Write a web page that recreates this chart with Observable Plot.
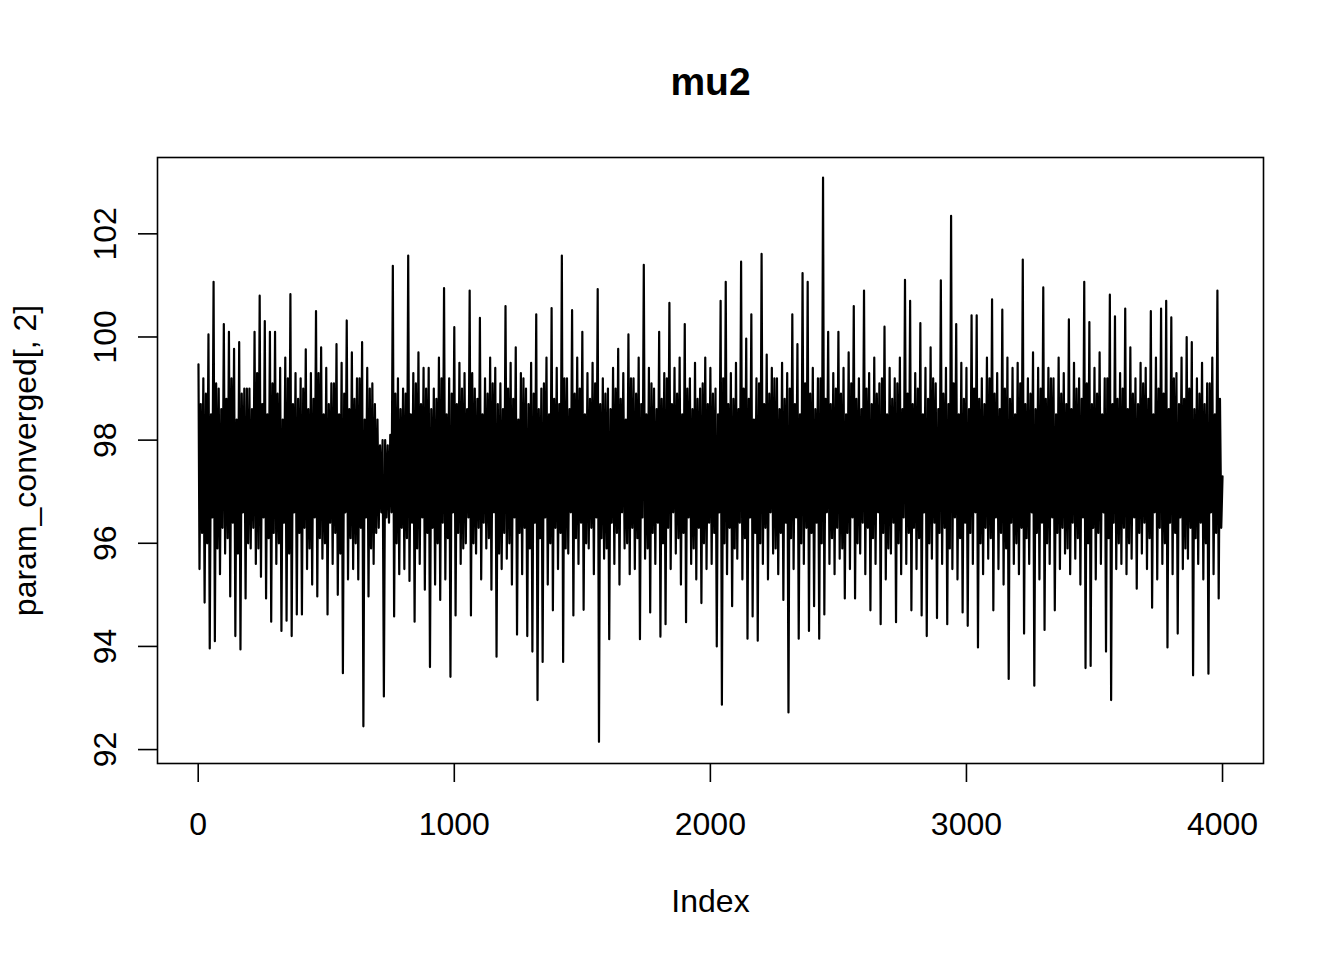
<!DOCTYPE html>
<html>
<head>
<meta charset="utf-8">
<script src="https://cdn.jsdelivr.net/npm/d3@7"></script>
<script src="https://cdn.jsdelivr.net/npm/@observablehq/plot@0.6"></script>
<style>
  html, body { margin: 0; padding: 0; background: #fff; }
  #chart svg { display: block; }
</style>
</head>
<body>
<div id="chart"></div>
<script>
// Trace of mu2 draws (every 5th draw, highs and lows of the band)
const mu2 = [
  99.47, 95.5, 98.7, 96.2, 99.2, 94.85, 98.9, 96.0, 100.05, 93.96, 98.5, 96.5, 101.07, 94.1, 99.1, 95.9, 99.0, 95.4, 98.6, 96.3,
  100.25, 95.8, 98.8, 96.1, 100.1, 94.97, 99.2, 96.4, 99.77, 94.2, 98.4, 95.8, 99.9, 93.94, 98.9, 96.6, 99.0, 94.93, 99.0, 96.0,
  99.0, 95.9, 98.6, 96.3, 100.1, 95.6, 99.3, 95.9, 100.8, 95.35, 98.7, 96.5, 100.31, 94.93, 98.5, 96.1, 100.1, 94.48, 99.1, 96.2,
  100.1, 95.6, 98.9, 96.0, 99.4, 94.3, 98.4, 96.4, 99.6, 94.5, 99.2, 95.8, 100.83, 94.2, 98.7, 96.6, 99.3, 94.62, 98.8, 96.2,
  99.2, 94.62, 99.0, 96.3, 99.76, 95.5, 98.6, 95.9, 99.3, 95.2, 98.8, 96.5, 100.5, 94.97, 99.3, 96.1, 99.8, 95.7, 98.5, 96.0,
  99.4, 94.62, 98.7, 96.4, 99.1, 95.6, 99.1, 96.2, 99.86, 95.0, 98.5, 95.8, 99.5, 93.48, 98.9, 96.6, 100.32, 95.3, 98.6, 96.1,
  99.7, 95.5, 98.8, 96.0, 99.2, 95.3, 99.2, 96.3, 99.9, 92.45, 98.4, 96.5, 99.4, 94.97, 99.0, 95.9, 99.1, 95.6, 98.7, 96.2,
  98.4, 96.3, 97.9, 96.6, 98.0, 93.03, 98.0, 96.5, 97.9, 96.4, 98.1, 96.6, 101.38, 94.58, 98.9, 96.0, 99.2, 95.4, 98.6, 96.3,
  99.0, 95.5, 98.9, 96.1, 101.58, 95.27, 98.5, 96.4, 99.3, 94.48, 99.1, 95.9, 99.7, 95.6, 98.7, 96.5, 99.4, 95.1, 99.0, 96.2,
  99.4, 93.6, 98.6, 96.3, 99.0, 95.2, 98.8, 96.0, 99.6, 94.9, 99.2, 96.4, 100.95, 95.3, 98.5, 96.1, 99.2, 93.41, 98.9, 96.6,
  100.19, 94.6, 98.7, 96.2, 99.5, 95.6, 99.0, 95.9, 99.3, 96.0, 98.6, 96.5, 100.9, 94.6, 99.3, 96.0, 99.0, 95.8, 98.8, 96.3,
  100.37, 95.3, 98.5, 96.4, 99.2, 95.9, 98.9, 96.1, 99.6, 95.1, 99.1, 96.6, 99.4, 93.8, 98.7, 95.8, 99.1, 95.5, 98.6, 96.2,
  100.6, 95.7, 99.0, 96.0, 99.5, 95.2, 98.8, 96.5, 99.8, 94.23, 98.4, 96.2, 99.3, 95.4, 99.2, 96.3, 99.0, 94.2, 98.7, 95.9,
  99.5, 93.9, 98.9, 96.4, 100.44, 92.96, 98.6, 96.1, 99.0, 93.7, 99.1, 96.5, 99.6, 95.2, 98.5, 96.0, 100.56, 94.7, 98.8, 96.3,
  99.4, 95.5, 98.7, 96.2, 101.58, 93.7, 99.2, 95.9, 99.2, 95.8, 98.6, 96.6, 100.52, 94.6, 98.9, 96.1, 99.6, 95.6, 99.0, 96.4,
  100.1, 94.71, 98.5, 96.0, 99.3, 95.9, 98.8, 96.3, 99.5, 95.4, 99.1, 96.5, 100.93, 92.15, 98.7, 96.1, 99.2, 95.7, 98.9, 95.9,
  99.0, 94.14, 98.6, 96.4, 99.4, 95.6, 99.0, 96.2, 99.77, 95.2, 98.8, 96.6, 99.3, 95.9, 98.4, 96.0, 100.05, 95.4, 99.2, 96.3,
  99.2, 95.5, 98.9, 96.1, 99.6, 94.14, 98.7, 96.5, 101.4, 95.7, 98.5, 95.9, 99.4, 94.66, 99.1, 96.2, 99.0, 95.6, 98.6, 96.4,
  100.1, 94.19, 98.8, 96.0, 99.3, 94.43, 99.2, 96.3, 100.66, 95.5, 98.7, 96.6, 99.4, 95.8, 98.9, 96.1, 99.6, 95.2, 98.5, 96.2,
  100.25, 94.47, 99.0, 96.5, 99.2, 95.6, 98.6, 95.9, 99.5, 95.3, 98.8, 96.3, 99.0, 94.84, 99.1, 96.0, 99.6, 95.5, 98.7, 96.4,
  99.4, 95.6, 98.9, 96.2, 99.0, 94.0, 98.5, 96.6, 100.7, 92.87, 99.2, 96.0, 101.07, 95.4, 98.7, 96.3, 99.3, 94.78, 98.8, 95.9,
  99.5, 95.7, 98.6, 96.4, 101.46, 95.3, 99.0, 96.1, 99.97, 94.15, 98.8, 96.5, 100.44, 94.58, 98.4, 96.2, 99.2, 94.11, 99.1, 96.0,
  101.61, 95.6, 98.7, 96.3, 99.66, 95.3, 98.9, 96.6, 99.4, 95.8, 99.2, 95.9, 99.2, 95.4, 98.6, 96.2, 99.5, 94.9, 98.8, 96.4,
  99.3, 92.72, 99.0, 96.1, 100.44, 95.5, 98.7, 96.5, 99.86, 94.15, 98.5, 96.0, 101.24, 95.6, 99.1, 96.3, 101.07, 94.3, 98.9, 96.2,
  99.4, 94.78, 98.6, 96.4, 99.2, 94.15, 99.2, 96.0, 103.09, 94.62, 98.8, 96.6, 100.1, 95.6, 98.7, 96.1, 99.3, 95.4, 99.0, 96.3,
  100.1, 95.7, 98.9, 95.9, 99.4, 94.93, 98.5, 96.2, 99.7, 95.5, 99.1, 96.5, 100.6, 94.93, 98.8, 96.0, 99.2, 95.8, 98.6, 96.4,
  100.9, 95.4, 99.0, 96.3, 99.3, 94.7, 98.7, 96.1, 99.6, 95.6, 98.9, 96.6, 99.1, 94.43, 99.2, 96.2, 100.2, 95.3, 98.5, 95.9,
  99.4, 95.8, 98.8, 96.4, 99.2, 94.47, 99.1, 96.0, 99.6, 95.4, 98.6, 96.5, 101.11, 95.6, 98.9, 96.2, 100.7, 94.7, 98.7, 96.3,
  99.3, 95.5, 99.0, 96.1, 100.27, 94.6, 98.5, 96.6, 99.4, 94.2, 98.8, 96.0, 99.8, 95.7, 99.2, 96.4, 99.1, 94.55, 98.6, 96.2,
  101.1, 95.6, 98.9, 96.3, 99.4, 94.43, 98.7, 95.9, 102.35, 95.5, 99.1, 96.5, 100.25, 95.3, 98.5, 96.1, 99.5, 94.66, 98.8, 96.4,
  99.4, 94.4, 98.6, 96.2, 100.42, 95.6, 99.0, 96.6, 100.42, 93.98, 98.8, 96.0, 99.2, 95.4, 98.7, 96.3, 99.6, 95.7, 99.2, 96.1,
  100.73, 94.7, 98.9, 96.5, 99.3, 95.5, 98.6, 96.2, 100.53, 95.2, 99.0, 95.9, 99.6, 93.37, 98.8, 96.4, 99.4, 95.6, 98.5, 96.0,
  99.5, 95.4, 99.1, 96.3, 101.5, 94.25, 98.7, 96.1, 99.2, 95.6, 98.9, 96.6, 99.7, 93.24, 98.6, 96.2, 99.4, 95.3, 99.0, 96.4,
  100.96, 94.32, 98.8, 96.0, 99.4, 95.6, 99.2, 96.5, 99.2, 94.7, 98.5, 96.2, 99.6, 95.5, 98.9, 96.3, 99.3, 95.8, 98.7, 95.9,
  100.34, 95.4, 98.6, 96.4, 99.5, 95.7, 99.0, 96.1, 99.2, 95.2, 98.8, 96.5, 101.07, 93.58, 99.1, 96.0, 100.29, 93.62, 98.7, 96.3,
  99.4, 95.3, 98.9, 96.2, 99.7, 95.6, 98.5, 96.6, 99.2, 93.9, 99.2, 96.1, 100.82, 92.96, 98.7, 96.4, 100.4, 95.5, 98.8, 96.0,
  99.3, 95.6, 99.0, 96.3, 100.55, 95.4, 98.6, 96.0, 99.8, 95.7, 98.9, 96.5, 99.2, 95.12, 98.7, 96.2, 99.5, 95.8, 99.1, 96.4,
  99.4, 95.5, 98.8, 96.1, 100.5, 94.75, 98.5, 96.6, 99.6, 95.3, 99.0, 96.3, 100.55, 95.6, 98.9, 96.0, 100.7, 93.98, 98.6, 96.4,
  100.38, 95.4, 99.2, 96.2, 99.3, 94.25, 98.7, 96.5, 99.6, 95.5, 98.8, 95.9, 100.0, 95.7, 99.0, 96.3, 99.9, 93.44, 98.6, 96.1,
  99.2, 95.6, 98.9, 96.4, 99.5, 95.3, 98.7, 96.0, 99.1, 93.47, 99.1, 96.6, 99.6, 95.4, 98.5, 96.2, 100.9, 94.93, 98.8, 96.3,
  97.3
];
const xTicks = [0, 1000, 2000, 3000, 4000];
const yTicks = [92, 94, 96, 98, 100, 102];
const titleText = "mu2";
const xLabel = "Index";
const yLabel = "param_converged[, 2]";

const data = mu2.map((v, k) => ({index: k === 0 ? 1 : k * 5, value: v}));

const font = "'Liberation Sans', Arial, sans-serif";

const chart = Plot.plot({
  width: 1344,
  height: 960,
  marginLeft: 157,
  marginRight: 81,
  marginTop: 157,
  marginBottom: 197,
  style: {background: "#fff", fontFamily: font, color: "#000"},
  x: {domain: [-159, 4160], axis: null},
  y: {domain: [91.73, 103.48], axis: null},
  marks: [
    Plot.lineY(data, {x: "index", y: "value", stroke: "#000", strokeWidth: 2.2}),
    Plot.frame({stroke: "#000", strokeWidth: 1.6}),
    Plot.axisX({ticks: xTicks, tickSize: 19, tickFormat: () => "", label: null, stroke: "#000", strokeWidth: 1.6}),
    Plot.axisY({ticks: yTicks, tickSize: 19, tickFormat: () => "", label: null, stroke: "#000", strokeWidth: 1.6}),
    Plot.text(xTicks, {x: d => d, text: d => String(d), frameAnchor: "bottom", dy: 71, lineAnchor: "bottom", textAnchor: "middle", fontSize: 32, fill: "#000"}),
    Plot.text(yTicks, {y: d => d, text: d => String(d), frameAnchor: "left", dx: -42, rotate: -90, lineAnchor: "bottom", textAnchor: "middle", fontSize: 32, fill: "#000"}),
    Plot.text([titleText], {frameAnchor: "top", dy: -63, lineAnchor: "bottom", textAnchor: "middle", fontSize: 39, fontWeight: "bold", fill: "#000"}),
    Plot.text([xLabel], {frameAnchor: "bottom", dy: 148, lineAnchor: "bottom", textAnchor: "middle", fontSize: 32, fill: "#000"}),
    Plot.text([yLabel], {frameAnchor: "left", dx: -122, rotate: -90, lineAnchor: "bottom", textAnchor: "middle", fontSize: 32, fill: "#000"})
  ]
});
document.getElementById("chart").appendChild(chart);
</script>
</body>
</html>
